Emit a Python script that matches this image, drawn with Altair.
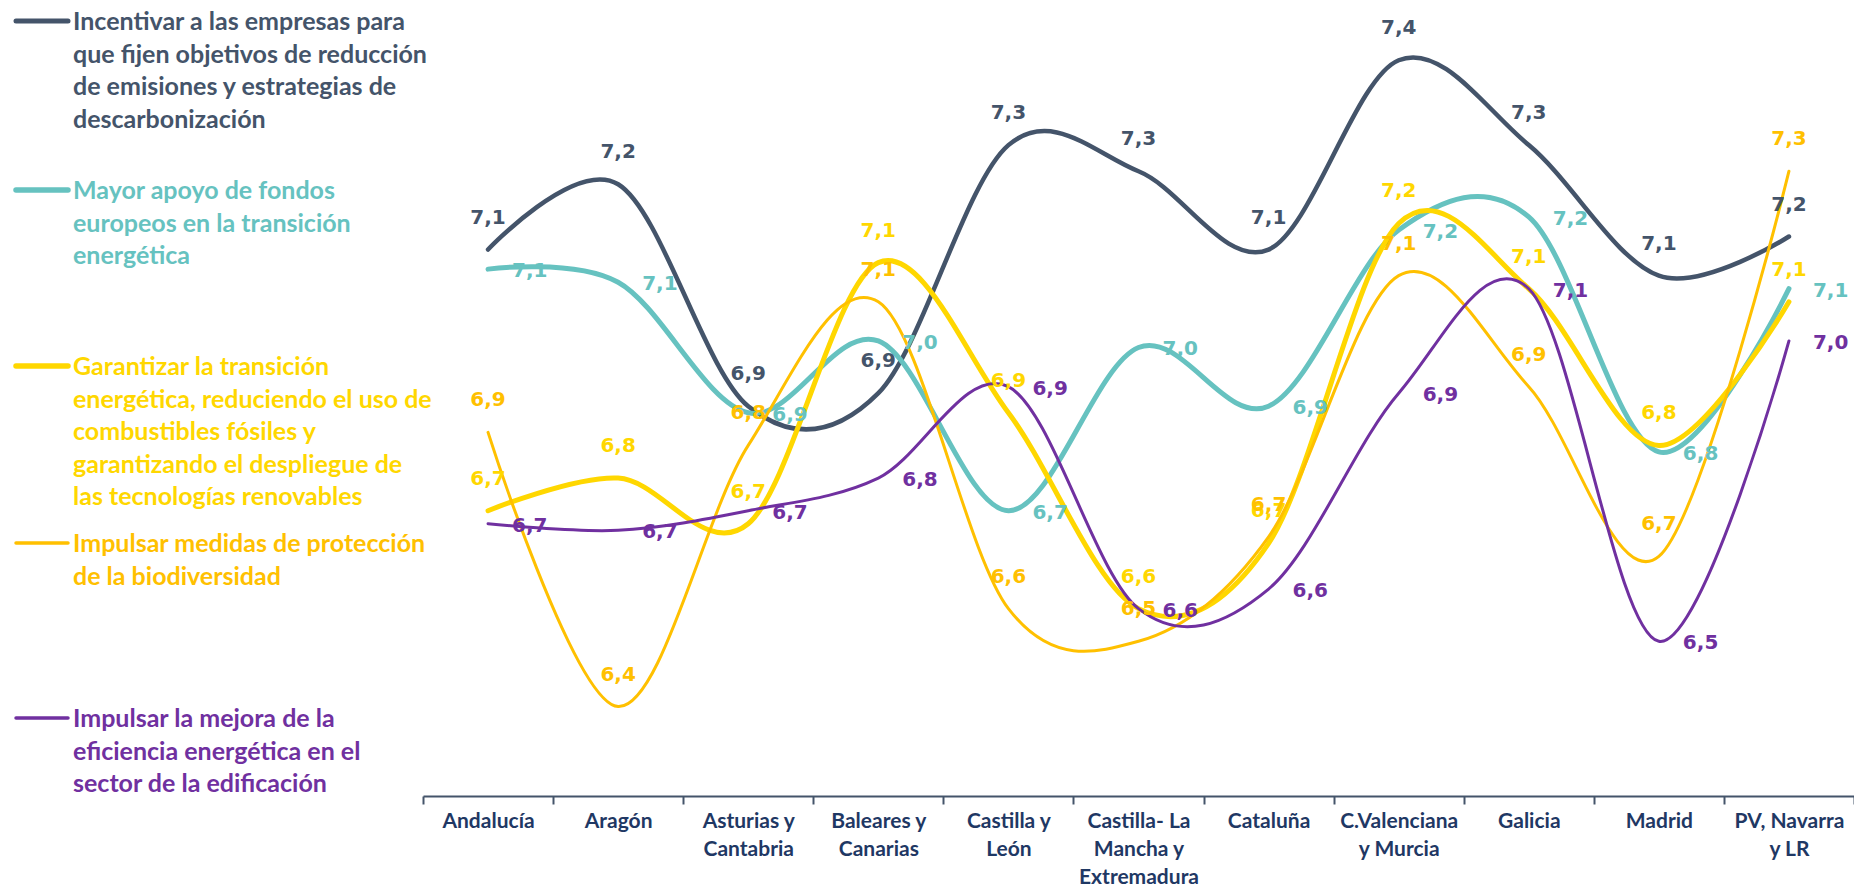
import json
import altair as alt
import pandas as pd

categories = ["Andalucía", "Aragón", "Asturias y Cantabria", "Baleares y Canarias",
              "Castilla y León", "Castilla- La Mancha y Extremadura", "Cataluña",
              "C.Valenciana y Murcia", "Galicia", "Madrid", "PV, Navarra y LR"]
axis_label_lines = [["Andalucía"], ["Aragón"], ["Asturias y", "Cantabria"],
                    ["Baleares y", "Canarias"], ["Castilla y", "León"],
                    ["Castilla- La", "Mancha y", "Extremadura"], ["Cataluña"],
                    ["C.Valenciana", "y Murcia"], ["Galicia"], ["Madrid"],
                    ["PV, Navarra", "y LR"]]

legend_lines = [
    ["Incentivar a las empresas para", "que fijen objetivos de reducción",
     "de emisiones y estrategias de", "descarbonización"],
    ["Mayor apoyo de fondos", "europeos en la transición", "energética"],
    ["Garantizar la transición", "energética, reduciendo el uso de",
     "combustibles fósiles y", "garantizando el despliegue de",
     "las tecnologías renovables"],
    ["Impulsar medidas de protección", "de la biodiversidad"],
    ["Impulsar la mejora de la", "eficiencia energética en el",
     "sector de la edificación"],
]

incentivar = [7.14, 7.24, 6.90, 6.92, 7.30, 7.26, 7.14, 7.43, 7.30, 7.10, 7.16]
fondos = [7.11, 7.09, 6.89, 7.00, 6.74, 6.99, 6.90, 7.17, 7.19, 6.83, 7.08]
garantizar = [6.74, 6.79, 6.72, 7.12, 6.89, 6.59, 6.69, 7.18, 7.08, 6.84, 7.06]
biodiversidad = [6.86, 6.44, 6.84, 7.06, 6.59, 6.54, 6.70, 7.10, 6.93, 6.67, 7.26]
edificacion = [6.72, 6.71, 6.74, 6.79, 6.93, 6.59, 6.62, 6.92, 7.08, 6.54, 7.00]

series_values = [incentivar, fondos, garantizar, biodiversidad, edificacion]
colors = ["#44546A", "#66C2C0", "#FFD700", "#FFC000", "#7030A0"]
widths = [4.5, 5, 5, 3, 3]
label_pos = ["above", "right", "above", "above", "right"]
legend_y = [21, 190, 366, 543, 718]   # page y of first legend line centre

PLOT_LEFT = 423
PLOT_TOP = 8

xenc = alt.X("cat:N", sort=categories,
             scale=alt.Scale(type="band", paddingInner=0, paddingOuter=0),
             bandPosition=0.5,
             axis=alt.Axis(title=None, labelAngle=0, tickBand="extent",
                           labelExpr=json.dumps(axis_label_lines, ensure_ascii=False)
                           + "[indexof(" + json.dumps(categories, ensure_ascii=False)
                           + ", datum.value)]",
                           labelFont="Lato", labelFontWeight="bold", labelFontSize=21,
                           labelColor="#1F3864", labelLineHeight=28, labelLimit=300,
                           labelPadding=6, domainColor="#44546A", domainWidth=2,
                           tickColor="#44546A", tickWidth=2, tickSize=8, grid=False))
yenc = alt.Y("value:Q", scale=alt.Scale(domain=[6.303, 7.51], zero=False, nice=False),
             axis=None)

layers = []
label_layers = []
legend_layers = []
for i, vals in enumerate(series_values):
    df = pd.DataFrame({"cat": categories, "value": vals})
    base = alt.Chart(df)
    layers.append(base.mark_line(color=colors[i], strokeWidth=widths[i],
                                 interpolate="cardinal", strokeCap="round")
                  .encode(x=xenc, y=yenc))
    if label_pos[i] == "above":
        tm = base.mark_text(color=colors[i], font="DejaVu Sans", fontWeight="bold",
                            fontSize=20, align="center", baseline="middle", dy=-32)
    else:
        tm = base.mark_text(color=colors[i], font="DejaVu Sans", fontWeight="bold",
                            fontSize=20, align="left", baseline="middle", dx=24, dy=2)
    label_layers.append(
        tm.transform_calculate(label="replace(format(datum.value, '.1f'), '.', ',')")
        .encode(x=xenc, y=yenc, text="label:N"))
    ly = legend_y[i] - PLOT_TOP
    legend_layers.append(
        alt.Chart(pd.DataFrame({"k": [0]})).mark_rule(
            color=colors[i], strokeWidth=widths[i] + 0.5, strokeCap="round")
        .encode(x=alt.value(16 - PLOT_LEFT), x2=alt.value(68 - PLOT_LEFT),
                y=alt.value(ly)))
    legend_layers.append(
        alt.Chart(pd.DataFrame({"k": [0]})).mark_text(
            color=colors[i], font="Lato", fontWeight="bold", fontSize=25,
            align="left", baseline="alphabetic", lineHeight=32.5)
        .encode(x=alt.value(73 - PLOT_LEFT), y=alt.value(ly + 9),
                text=alt.value(legend_lines[i])))

chart = alt.layer(*layers, *label_layers, *legend_layers).properties(
    width=1854 - PLOT_LEFT, height=796 - PLOT_TOP,
    autosize=alt.AutoSizeParams(type="none"),
    padding={"left": PLOT_LEFT - 8, "top": PLOT_TOP - 8, "right": 0, "bottom": 90},
    background="white",
).configure_view(stroke=None)

chart.save("out.html", embed_options={"renderer": "svg", "actions": False})
